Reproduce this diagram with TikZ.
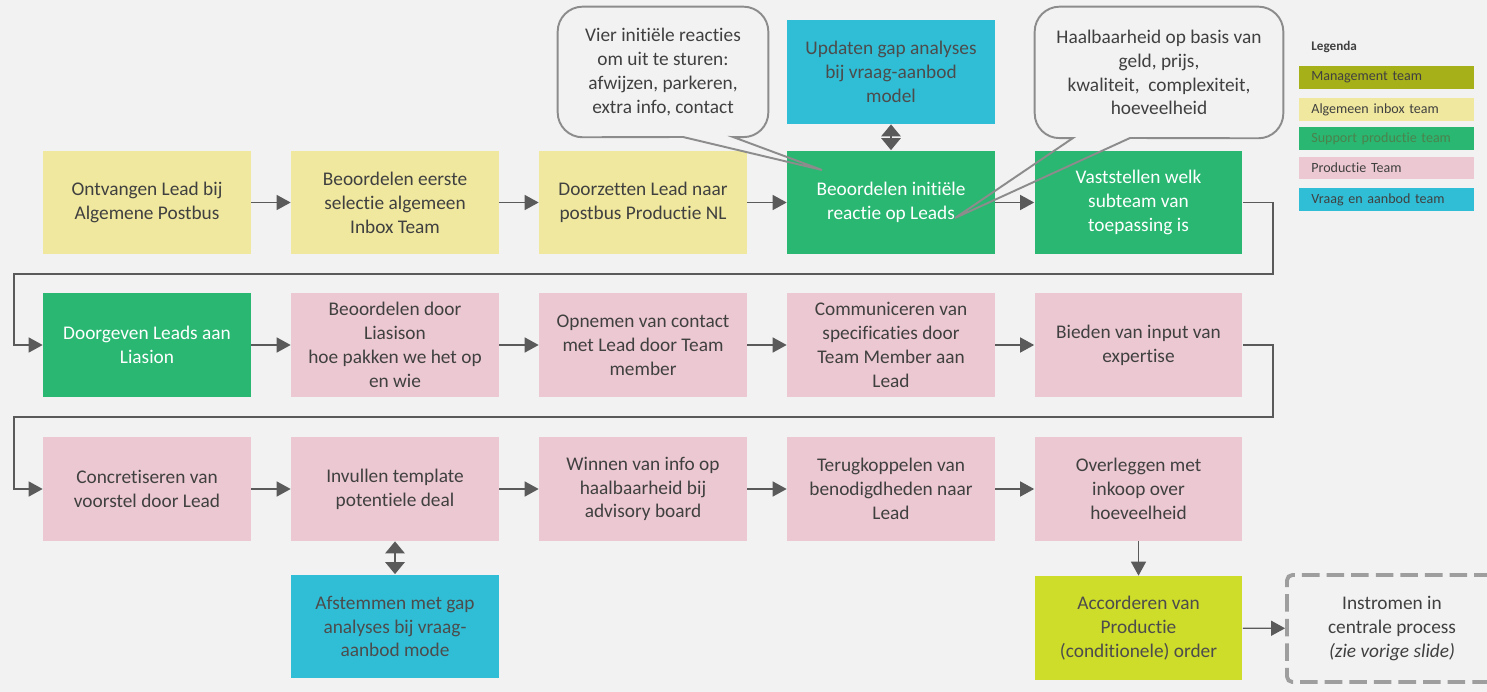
\documentclass[tikz,border=0pt]{standalone}
\usepackage{fontspec}
\setmainfont{Carlito}[Ligatures=NoCommon]
\usetikzlibrary{arrows.meta}
\definecolor{bg}{HTML}{F2F2F2}
\definecolor{txt}{HTML}{404040}
\definecolor{geel}{HTML}{F0E89E}
\definecolor{groen}{HTML}{29B772}
\definecolor{roze}{HTML}{ECC8D2}
\definecolor{cyaan}{HTML}{30BED6}
\definecolor{limoen}{HTML}{CEDC2A}
\definecolor{olijf}{HTML}{A6B018}
\definecolor{pijl}{HTML}{5A5A5A}
\definecolor{ballon}{HTML}{8C8C8C}
\begin{document}
\begin{tikzpicture}[x=0.02cm,y=-0.02cm,font=\fontsize{11}{13.6}\selectfont,
		box/.style={minimum width=4.16cm,minimum height=2.08cm,inner sep=0pt,align=center,text=txt},
		inbox/.style={box,fill=geel},
		support/.style={box,fill=groen,text=white},
		productie/.style={box,fill=roze},
		vraag/.style={box,fill=cyaan,text=black!70},
		flow/.style={draw=pijl,line width=0.8pt,-{Triangle[length=0.28cm,width=0.3cm]}},
		both/.style={draw=pijl,line width=1.6pt,{Triangle[length=0.24cm,width=0.38cm]}-{Triangle[length=0.24cm,width=0.38cm]}},
		bubble/.style={draw=ballon,line width=1.1pt},
		legend/.style={anchor=west,minimum width=3.5cm,minimum height=0.4cm,inner xsep=0.24cm,text width=3.02cm,align=left,font=\fontsize{8}{9}\selectfont,text=txt}]
	\fill[bg] (0,0) rectangle (1487,692);
	\useasboundingbox (0,0) rectangle (1487,692);
	\node (ontvangen) at (147,202.5)[inbox]{Ontvangen Lead bij\\Algemene Postbus};
	\node (eerste) at (395,202.5)[inbox]{Beoordelen eerste\\selectie algemeen\\Inbox Team};
	\node (doorzetten) at (643,202.5)[inbox]{Doorzetten Lead naar\\postbus Productie NL};
	\node (initieel) at (891,202.5)[support]{Beoordelen initiële\\reactie op Leads};
	\node (vaststellen) at (1138.5,202.5)[support]{Vaststellen welk\\subteam van\\toepassing is};
	\node (doorgeven) at (147,345)[support]{Doorgeven Leads aan\\Liasion};
	\node (liasion) at (395,345)[productie]{Beoordelen door\\Liasison\\hoe pakken we het op\\en wie};
	\node (opnemen) at (643,345)[productie]{Opnemen van contact\\met Lead door Team\\member};
	\node (communiceren) at (891,345)[productie]{Communiceren van\\specificaties door\\Team Member aan\\Lead};
	\node (bieden) at (1138.5,345)[productie]{Bieden van input van\\expertise};
	\node (concretiseren) at (147,489)[productie]{Concretiseren van\\voorstel door Lead};
	\node (invullen) at (395,489)[productie]{Invullen template\\potentiele deal};
	\node (winnen) at (643,489)[productie]{Winnen van info op\\haalbaarheid bij\\advisory board};
	\node (terugkoppelen) at (891,489)[productie]{Terugkoppelen van\\benodigdheden naar\\Lead};
	\node (overleggen) at (1138.5,489)[productie]{Overleggen met\\inkoop over\\hoeveelheid};
	\node (updaten) at (891,72)[vraag]{Updaten gap analyses\\bij vraag-aanbod\\model};
	\node (afstemmen) at (395,626.5)[vraag]{Afstemmen met gap\\analyses bij vraag-\\aanbod mode};
	\node (accorderen) at (1138.5,628)[box,fill=limoen,text=black!70]{Accorderen van\\Productie\\(conditionele) order};
	\node (instromen) at (1392,628.5)[box,minimum width=4.2cm,minimum height=2.14cm,draw=black!38,line width=2.2pt,dash pattern=on 10pt off 4pt,rounded corners=3pt]{Instromen in\\centrale process\\\textit{(zie vorige slide)}};
	\draw[flow] (ontvangen) -- (eerste);
	\draw[flow] (eerste) -- (doorzetten);
	\draw[flow] (doorzetten) -- (initieel);
	\draw[flow] (initieel) -- (vaststellen);
	\draw[flow] (vaststellen.east) -- ++(30,0) |- (14,274) |- (doorgeven.west);
	\draw[flow] (doorgeven) -- (liasion);
	\draw[flow] (liasion) -- (opnemen);
	\draw[flow] (opnemen) -- (communiceren);
	\draw[flow] (communiceren) -- (bieden);
	\draw[flow] (bieden.east) -- ++(30,0) |- (14,417) |- (concretiseren.west);
	\draw[flow] (concretiseren) -- (invullen);
	\draw[flow] (invullen) -- (winnen);
	\draw[flow] (winnen) -- (terugkoppelen);
	\draw[flow] (terugkoppelen) -- (overleggen);
	\draw[flow] (overleggen) -- (accorderen);
	\draw[flow] (accorderen) -- (instromen);
	\draw[both] (updaten) -- (initieel);
	\draw[both] (invullen) -- (afstemmen);
	\node (vier) at (663,72)[minimum width=4.2cm,minimum height=2.6cm,align=center,text=txt]{Vier initiële reacties\\om uit te sturen:\\afwijzen, parkeren,\\extra info, contact};
	\coordinate (vierL) at (683,137);
	\coordinate (vierR) at (733,137);
	\coordinate (vierTip) at (822,170);
	\draw[bubble] (vierTip) -- (vierL) [rounded corners=0.5cm] -- (vier.south west) -- (vier.north west) -- (vier.north east) -- (vier.south east) [sharp corners] -- (vierR) -- cycle;
	\node (haalbaar) at (1159,72.5)[minimum width=4.96cm,minimum height=2.62cm,align=center,text=txt]{Haalbaarheid op basis van\\geld, prijs,\\kwaliteit,\ \ complexiteit,\\hoeveelheid};
	\coordinate (haalbaarL) at (1073,138);
	\coordinate (haalbaarR) at (1130,138);
	\coordinate (haalbaarTip) at (955,218);
	\draw[bubble] (haalbaarTip) -- (haalbaarL) [rounded corners=0.5cm] -- (haalbaar.south west) -- (haalbaar.north west) -- (haalbaar.north east) -- (haalbaar.south east) [sharp corners] -- (haalbaarR) -- cycle;
	\node (legenda) at (1311,47)[anchor=west,inner sep=0pt,font=\fontsize{7.5}{9}\selectfont\bfseries,text=txt]{Legenda};
	\node (management) at (1299,77.5)[legend,fill=olijf]{Management team};
	\node (algemeen) at (1299,109.5)[legend,fill=geel]{Algemeen inbox team};
	\node (supportteam) at (1299,138.5)[legend,fill=groen,text=green!30!black!70]{Support productie team};
	\node (productieteam) at (1299,168)[legend,fill=roze]{Productie Team};
	\node (vraagteam) at (1299,199.5)[legend,fill=cyaan]{Vraag en aanbod team};
\end{tikzpicture}
\end{document}
